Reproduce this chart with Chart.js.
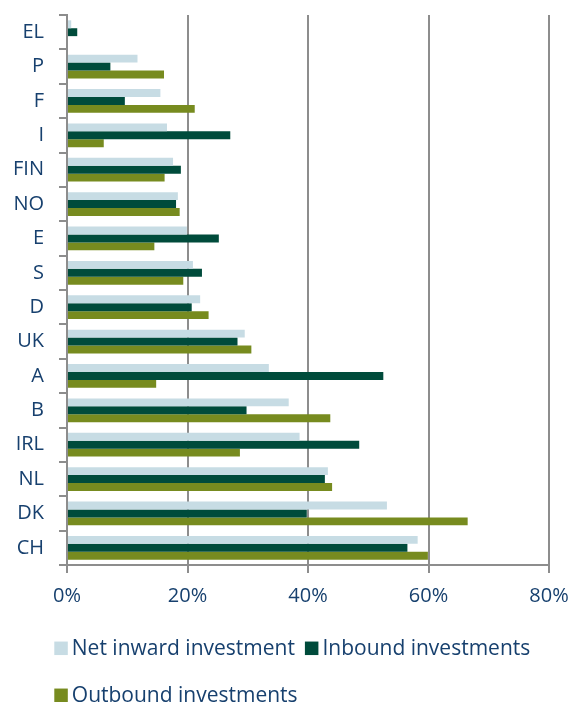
<!DOCTYPE html>
<html>
<head>
<meta charset="utf-8">
<script src="https://cdn.jsdelivr.net/npm/chart.js@4"></script>
<style>
  html, body { margin: 0; padding: 0; background: #ffffff; }
  #wrap { width: 571px; height: 702px; position: relative; }
</style>
</head>
<body>
<div id="wrap"><canvas id="chart"></canvas></div>
<script>
// Countries, top to bottom
const categories = ['EL', 'P', 'F', 'I', 'FIN', 'NO', 'E', 'S', 'D', 'UK', 'A', 'B', 'IRL', 'NL', 'DK', 'CH'];

// Shares in percent
const netInward = [0.7, 11.7, 15.5, 16.6, 17.6, 18.4, 19.9, 20.9, 22.1, 29.5, 33.5, 36.8, 38.6, 43.3, 53.1, 58.2];
const inbound   = [1.7, 7.2, 9.6, 27.1, 18.9, 18.1, 25.2, 22.4, 20.7, 28.3, 52.5, 29.8, 48.5, 42.8, 39.8, 56.5];
const outbound  = [0, 16.1, 21.2, 6.1, 16.2, 18.7, 14.5, 19.3, 23.5, 30.6, 14.8, 43.7, 28.7, 44.0, 66.5, 59.9];

const seriesNames = ['Net inward investment', 'Inbound investments', 'Outbound investments'];
const xTicks = [0, 20, 40, 60, 80];

const TEXT = '#17406e';
const GRID = '#8d8d8d';
const FONT = "'Open Sans', 'DejaVu Sans', sans-serif";

// Legend laid out in rows under the plot
const rowLegend = {
  id: 'rowLegend',
  afterDraw(chart, args, opts) {
    const ctx = chart.ctx;
    ctx.save();
    ctx.font = opts.fontSize + 'px ' + FONT;
    ctx.textBaseline = 'middle';
    ctx.textAlign = 'left';
    let x = opts.left;
    let row = 0;
    chart.data.datasets.forEach(ds => {
      const w = opts.box + opts.textGap + ctx.measureText(ds.label).width;
      if (x > opts.left && x + w > opts.right) {
        row++;
        x = opts.left;
      }
      const cy = opts.top + row * opts.rowHeight;
      ctx.fillStyle = ds.backgroundColor;
      ctx.fillRect(x, cy - opts.box / 2, opts.box, opts.box);
      ctx.fillStyle = opts.color;
      ctx.fillText(ds.label, x + opts.box + opts.textGap, cy + 1);
      x += w + opts.itemGap;
    });
    ctx.restore();
  }
};

new Chart(document.getElementById('chart'), {
  type: 'bar',
  data: {
    labels: categories,
    datasets: [
      { label: seriesNames[0], data: netInward, backgroundColor: '#c7dce4' },
      { label: seriesNames[1], data: inbound,   backgroundColor: '#004b3b' },
      { label: seriesNames[2], data: outbound,  backgroundColor: '#778b1f' }
    ]
  },
  options: {
    indexAxis: 'y',
    responsive: true,
    maintainAspectRatio: false,
    animation: false,
    layout: { padding: { left: 0, right: 22, top: 15, bottom: 83 } },
    datasets: { bar: { categoryPercentage: 0.69, barPercentage: 1.0, borderWidth: 0 } },
    scales: {
      x: {
        min: 0,
        max: 80,
        afterBuildTicks(scale) { scale.ticks = xTicks.map(v => ({ value: v })); },
        afterFit(scale) { scale.paddingLeft = 0; scale.paddingRight = 0; },
        ticks: {
          color: TEXT,
          font: { family: FONT, size: 20 },
          padding: 11,
          callback: v => v + '%'
        },
        grid: { color: GRID, lineWidth: 2, tickLength: 8, drawTicks: true },
        border: { display: true, color: GRID, width: 2 }
      },
      y: {
        afterFit(scale) { scale.width = 67; scale.paddingTop = 0; scale.paddingBottom = 0; },
        ticks: {
          color: TEXT,
          font: { family: FONT, size: 20 },
          padding: 15
        },
        grid: { drawOnChartArea: false, drawTicks: true, tickLength: 8, color: GRID, lineWidth: 2 },
        border: { display: true, color: GRID, width: 2 }
      }
    },
    plugins: {
      legend: { display: false },
      tooltip: { enabled: false },
      rowLegend: {
        left: 54.3, top: 648.3, rowHeight: 47, box: 13.5, textGap: 4, itemGap: 10,
        right: 568, fontSize: 21, color: TEXT
      }
    }
  },
  plugins: [rowLegend]
});
</script>
</body>
</html>
